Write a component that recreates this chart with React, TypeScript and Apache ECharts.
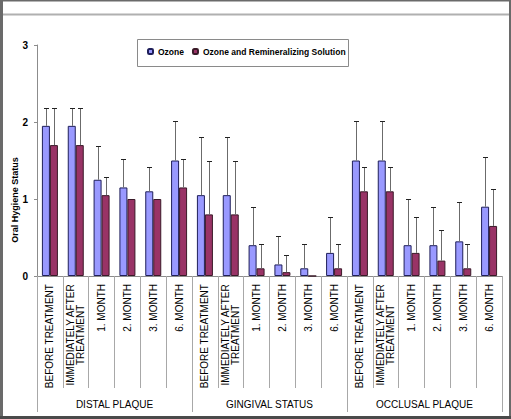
import React, { useEffect, useRef } from "react";
import * as echarts from "echarts";

const categories = [
  "BEFORE TREATMENT", "IMMEDIATELY AFTER\nTREATMENT", "1. MONTH", "2. MONTH", "3. MONTH", "6. MONTH",
  "BEFORE TREATMENT", "IMMEDIATELY AFTER\nTREATMENT", "1. MONTH", "2. MONTH", "3. MONTH", "6. MONTH",
  "BEFORE TREATMENT", "IMMEDIATELY AFTER\nTREATMENT", "1. MONTH", "2. MONTH", "3. MONTH", "6. MONTH",
];
const groups = ["DISTAL PLAQUE", "GINGIVAL STATUS", "OCCLUSAL PLAQUE"];
const seriesNames = ["Ozone", "Ozone and Remineralizing Solution"];

const ozone = [1.95, 1.95, 1.25, 1.15, 1.1, 1.5, 1.05, 1.05, 0.4, 0.15, 0.1, 0.3, 1.5, 1.5, 0.4, 0.4, 0.45, 0.9];
const remin = [1.7, 1.7, 1.05, 1.0, 1.0, 1.15, 0.8, 0.8, 0.1, 0.05, 0, 0.1, 1.1, 1.1, 0.3, 0.2, 0.1, 0.65];
const ozoneErrTop = [2.18, 2.18, 1.69, 1.52, 1.41, 2.01, 1.81, 1.81, 0.9, 0.52, 0.41, 0.77, 2.01, 2.01, 1.0, 0.9, 0.96, 1.54];
const reminErrTop: (number | null)[] = [2.18, 2.18, 1.28, null, null, 1.52, 1.49, 1.49, 0.41, 0.27, null, 0.41, 1.41, 1.41, 0.77, 0.6, 0.41, 1.13];

const yTicks = { min: 0, max: 3, interval: 1 };

const FONT = '"Liberation Sans", Arial, sans-serif';
const BAR_W = 8;

function errData(vals: number[], tops: (number | null)[]) {
  const out: number[][] = [];
  vals.forEach((v, i) => {
    const t = tops[i];
    if (t !== null && t !== undefined) out.push([i, v, t]);
  });
  return out;
}

function errSeries(data: number[][], offset: number) {
  return {
    type: "custom",
    xAxisIndex: 0,
    yAxisIndex: 0,
    silent: true,
    z: 5,
    encode: { x: 0, y: 2 },
    data,
    renderItem: (params: any, api: any) => {
      const c = api.value(0);
      const b = api.value(1);
      const t = api.value(2);
      const p0 = api.coord([c, b]);
      const p1 = api.coord([c, t]);
      const x = Math.round(p0[0] + offset) + 0.5;
      const yt = Math.round(p1[1]) + 0.5;
      return {
        type: "group",
        children: [
          { type: "line", shape: { x1: x, y1: p0[1], x2: x, y2: yt }, style: { stroke: "#6b6b6b", lineWidth: 1 } },
          { type: "line", shape: { x1: x - 2.5, y1: yt, x2: x + 2.5, y2: yt }, style: { stroke: "#222", lineWidth: 1 } },
        ],
      };
    },
  };
}

export default function App() {
  const ref = useRef<HTMLDivElement>(null);
  useEffect(() => {
    if (!ref.current) return;
    const chart = echarts.init(ref.current, undefined, { renderer: "svg" });
    const option: any = {
      animation: false,
      backgroundColor: "#fff",
      grid: { left: 37, right: 9, top: 45, bottom: 143, containLabel: false },
      legend: {
        data: seriesNames,
        left: 147,
        top: 47,
        padding: 0,
        itemWidth: 5,
        itemHeight: 5,
        itemGap: 8,
        textStyle: { fontFamily: FONT, fontSize: 8.5, fontWeight: "bold", color: "#000" },
      },
      xAxis: [
        {
          type: "category",
          data: categories,
          position: "bottom",
          axisLine: { show: true, lineStyle: { color: "#8c8c8c", width: 1 } },
          axisTick: { show: true, interval: 0, length: 112, lineStyle: { color: "#a8a8a8" } },
          axisLabel: {
            interval: 0,
            rotate: 90,
            margin: 8,
            fontFamily: FONT,
            fontSize: 10,
            color: "#000",
            formatter: (v: string) => v.split("\n").map((s) => `{c|${s}}`).join("\n"),
            rich: { c: { align: "center", fontFamily: FONT, fontSize: 10, color: "#000", lineHeight: 10 } },
          },
        },
        {
          type: "category",
          data: groups,
          position: "bottom",
          axisLine: { show: false },
          axisTick: { show: true, interval: 0, length: 136, lineStyle: { color: "#a8a8a8" } },
          axisLabel: { interval: 0, margin: 123, fontFamily: FONT, fontSize: 10, color: "#000" },
        },
      ],
      yAxis: {
        type: "value",
        min: yTicks.min,
        max: yTicks.max,
        interval: yTicks.interval,
        axisLine: { show: true, lineStyle: { color: "#8c8c8c", width: 1 } },
        axisTick: { show: true, length: 3, lineStyle: { color: "#8c8c8c" } },
        splitLine: { show: false },
        axisLabel: { margin: 9, fontFamily: FONT, fontSize: 10, fontWeight: "bold", color: "#000" },
      },
      graphic: [
        { type: "rect", silent: true, z: 100, shape: { x: 137.5, y: 39.5, width: 211, height: 27 }, style: { fill: "none", stroke: "#8a8a8a", lineWidth: 1 } },
        { type: "line", silent: true, z: 100, shape: { x1: 3, y1: 14.5, x2: 509, y2: 14.5 }, style: { stroke: "#b0b0b0", lineWidth: 2 } },
        { type: "rect", silent: true, z: 100, shape: { x: 0, y: 0, width: 3, height: 419 }, style: { fill: "#6a6a6a" } },
        { type: "rect", silent: true, z: 100, shape: { x: 0, y: 0, width: 511, height: 1.5 }, style: { fill: "#6a6a6a" } },
        { type: "rect", silent: true, z: 100, shape: { x: 509, y: 0, width: 2, height: 419 }, style: { fill: "#6a6a6a" } },
        { type: "rect", silent: true, z: 100, shape: { x: 0, y: 416, width: 511, height: 3 }, style: { fill: "#4a4a4a" } },
        {
          type: "text",
          silent: true,
          z: 100,
          x: 15,
          y: 200,
          rotation: Math.PI / 2,
          style: { text: "Oral Hygiene Status", fontFamily: FONT, fontSize: 9, fontWeight: "bold", fill: "#000", textAlign: "center", textVerticalAlign: "middle" },
        },
      ],
      series: [
        {
          name: seriesNames[0],
          type: "bar",
          xAxisIndex: 0,
          barWidth: BAR_W,
          barGap: "0%",
          data: ozone,
          itemStyle: { color: "#9999ff", borderColor: "#1f1f5a", borderWidth: 1 },
        },
        {
          name: seriesNames[1],
          type: "bar",
          xAxisIndex: 0,
          barWidth: BAR_W,
          barGap: "0%",
          data: remin,
          itemStyle: { color: "#993366", borderColor: "#3a1a28", borderWidth: 1 },
        },
        errSeries(errData(ozone, ozoneErrTop), -BAR_W / 2),
        errSeries(errData(remin, reminErrTop), BAR_W / 2),
      ],
    };
    chart.setOption(option);
    return () => chart.dispose();
  }, []);
  return <div ref={ref} style={{ position: "fixed", left: 0, top: 0, width: 511, height: 419 }} />;
}
